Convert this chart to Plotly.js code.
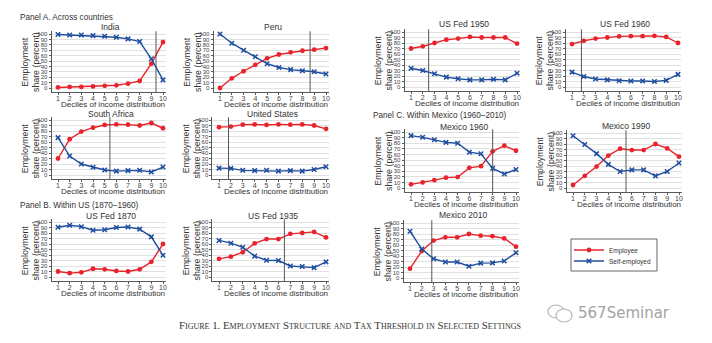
<!DOCTYPE html>
<html><head><meta charset="utf-8">
<script src="https://cdn.plot.ly/plotly-3.0.1.min.js"></script>
<style>html,body{margin:0;padding:0;background:#fff;} #chart{width:712px;height:343px;}</style>
</head><body><div id="chart"></div>
<script>
// ---------- data ----------
const deciles = [1,2,3,4,5,6,7,8,9,10];
const yTickVals = [0,10,20,30,40,50,60,70,80,90,100];
const panelTitles = ['India','Peru','US Fed 1950','US Fed 1960','South Africa','United States','Mexico 1960','Mexico 1990','US Fed 1870','US Fed 1935','Mexico 2010'];

const indiaEmployee = [1,2,2,3,4,5,8,13,45,85];
const indiaSelf     = [99,98,98,97,96,94,91,86,54,15];
const peruEmployee  = [0,18,31,43,55,62,66,69,71,74];
const peruSelf      = [100,83,70,58,45,38,34,32,30,26];
const fed1950Employee = [70,74,80,86,88,91,90,90,90,79];
const fed1950Self     = [34,30,24,18,15,13,13,14,13,25];
const fed1960Employee = [78,84,88,90,92,92.5,92.5,93,91,80];
const fed1960Self     = [27,19,14.5,13,11.5,11,11,10,12,23];
const southAfricaEmployee = [30,65,79,86,91,92,91.5,90,94.5,85];
const southAfricaSelf     = [68,34.5,20,14,9,7,8,8.5,5.5,14.5];
const usEmployee = [87,88,91.5,92,91,92,91.5,92,90,84];
const usSelf     = [12.5,12,8.5,8,8.5,7,8,7,10,15];
const mex1960Employee = [6.5,10,14,18.5,19.5,36,39,65.5,75.5,66.5];
const mex1960Self     = [93.5,90.5,86,81.5,80,64,61,35,25,33];
const mex1990Employee = [5.5,22,39,59,71.5,69,69,80,72,57];
const mex1990Self     = [95,79,62.5,43,30,33,33,22,30,45.5];
const fed1870Employee = [10,7,8.5,15,14,11,10,14,27.5,60];
const fed1870Self     = [90.5,94,91.5,85,86,90,91,87,73,39.5];
const fed1935Employee = [33,37,45,61,69,69,78.5,80,82,72];
const fed1935Self     = [66.5,61.5,54,38,30.5,30,20,19,17,27.5];
const mex2010Employee = [17,49,68,74,74,80,77,76,72,57];
const mex2010Self     = [85,52.5,35,29,29,21.5,27,27.5,31,46];

// tax threshold (decile position) for each panel; null = none drawn
const thresholds = [9.4, 8.65, 2.5, 1.8, 5.45, 1.8, 8.0, 5.5, null, 6.5, 2.85];

const employeeSeries = [indiaEmployee, peruEmployee, fed1950Employee, fed1960Employee, southAfricaEmployee, usEmployee, mex1960Employee, mex1990Employee, fed1870Employee, fed1935Employee, mex2010Employee];
const selfSeries = [indiaSelf, peruSelf, fed1950Self, fed1960Self, southAfricaSelf, usSelf, mex1960Self, mex1990Self, fed1870Self, fed1935Self, mex2010Self];

// ---------- layout geometry (pixels) ----------
const W = 712, H = 343;
// [pixel of x=1, pixel of x=10, pixel of y=100, pixel of y=0, title y]
const geom = [
  [58,163,34,88,27],[220,326,34,88,27],[411,517,32,87,24],[572,678,32,87,24],
  [58,163,120,175,114],[219,326,120,175,114],[411,516,132,188,127],[573,679,133,188,126],
  [58,163,222,277,216],[219,326,222,277,215.5],[410,516,223,278,215]
];
const XMIN = 0.45, XMAX = 10.25, YMIN = -8, YMAX = 105;

const RED = '#e8232b', BLUE = '#1f4e9f', TXT = '#333', AX = '#5a5a5a';
const FONT = 'Liberation Sans, Arial, sans-serif';

const data = [];
const layout = {
  width: W, height: H, margin: {l:0,r:0,t:0,b:0},
  paper_bgcolor: '#fff', plot_bgcolor: '#fff',
  font: {family: FONT, color: TXT},
  showlegend: true,
  shapes: [], annotations: []
};

function px2x(p){ return p / W; }
function px2y(p){ return 1 - p / H; }

geom.forEach((g, i) => {
  const n = i + 1;
  const [x1, x10, y100, y0, ty] = g;
  const u = (x10 - x1) / 9, v = (y0 - y100) / 100;
  const left = x1 - (1 - XMIN) * u, right = x10 + (XMAX - 10) * u;
  const top = y100 - (YMAX - 100) * v, bottom = y0 - YMIN * v;
  const xa = 'xaxis' + (n === 1 ? '' : n), ya = 'yaxis' + (n === 1 ? '' : n);
  const xr = 'x' + (n === 1 ? '' : n), yr = 'y' + (n === 1 ? '' : n);
  layout[xa] = {
    domain: [px2x(left), px2x(right)], anchor: yr, range: [XMIN, XMAX],
    tickvals: deciles, ticks: 'outside', ticklen: 2, tickwidth: 1, tickcolor: AX,
    ticklabelstandoff: -3,
    tickfont: {size: 7, color: '#444'}, showline: true, linecolor: AX, linewidth: 1,
    showgrid: false, zeroline: false, fixedrange: true
  };
  layout[ya] = {
    domain: [px2y(bottom), px2y(top)], anchor: xr, range: [YMIN, YMAX],
    tickvals: yTickVals, ticks: 'outside', ticklen: 2, tickwidth: 1, tickcolor: AX,
    tickfont: {size: 6, color: '#444'}, showline: true, linecolor: AX, linewidth: 1,
    showgrid: true, gridcolor: '#e1e1e1', gridwidth: 1, zeroline: false, fixedrange: true
  };
  data.push({
    x: deciles, y: employeeSeries[i], xaxis: xr, yaxis: yr, type: 'scatter', mode: 'lines+markers',
    name: 'Employee', line: {color: RED, width: 1.4}, marker: {color: RED, size: 4.8, symbol: 'circle'},
    showlegend: i === 0, legend: 'legend'
  });
  data.push({
    x: deciles, y: selfSeries[i], xaxis: xr, yaxis: yr, type: 'scatter', mode: 'lines+markers',
    name: 'Self-employed', line: {color: BLUE, width: 1.4}, marker: {color: BLUE, size: 4.5, symbol: 'x-thin', line: {color: BLUE, width: 1.5}},
    showlegend: i === 0, legend: 'legend2'
  });
  if (thresholds[i] !== null) {
    layout.shapes.push({type: 'line', xref: xr, yref: yr + ' domain', x0: thresholds[i], x1: thresholds[i], y0: 0, y1: 1,
      line: {color: '#555', width: 1}});
  }
  const cx = (x1 + x10) / 2;
  layout.annotations.push({text: panelTitles[i], xref: 'paper', yref: 'paper', x: px2x(cx), y: px2y(ty),
    xanchor: 'center', yanchor: 'middle', showarrow: false, font: {size: 8.5, color: TXT}});
  layout.annotations.push({text: 'Deciles of income distribution', xref: 'paper', yref: 'paper', x: px2x(cx + 3), y: px2y(y0 + 16.5),
    xanchor: 'center', yanchor: 'middle', showarrow: false, font: {size: 8, color: TXT}});
  layout.annotations.push({text: 'Employment<br>share (percent)', xref: 'paper', yref: 'paper', x: px2x(x1 - 28), y: px2y((y100 + y0) / 2 + 1),
    xanchor: 'center', yanchor: 'middle', showarrow: false, textangle: -90, font: {size: 8.8, color: TXT}});
});

// panel headings
[['Panel A. Across countries', 18, 17], ['Panel B. Within US (1870–1960)', 18, 206], ['Panel C. Within Mexico (1960–2010)', 371, 116]].forEach(p => {
  layout.annotations.push({text: p[0], xref: 'paper', yref: 'paper', x: px2x(p[1]), y: px2y(p[2]), xanchor: 'left', yanchor: 'middle',
    showarrow: false, font: {size: 8.2, color: TXT}});
});

// caption
layout.annotations.push({text: 'Figure 1. Employment Structure and Tax Threshold in Selected Settings', xref: 'paper', yref: 'paper',
  x: px2x(350), y: px2y(325), xanchor: 'center', yanchor: 'middle', showarrow: false,
  font: {family: 'Liberation Serif, Times New Roman, serif', size: 10.8, color: '#333', variant: 'small-caps'}});

// watermark
layout.annotations.push({text: '567Seminar', xref: 'paper', yref: 'paper', x: px2x(624), y: px2y(313), xanchor: 'center', yanchor: 'middle',
  showarrow: false, font: {size: 15, color: '#a3a3a3', family: 'DejaVu Sans, sans-serif'}});
layout.shapes.push({type: 'circle', xref: 'paper', yref: 'paper', x0: px2x(548), x1: px2x(564), y0: px2y(318), y1: px2y(305), line: {color: '#b5b5b5', width: 1.2}});
layout.shapes.push({type: 'circle', xref: 'paper', yref: 'paper', x0: px2x(556), x1: px2x(572), y0: px2y(322), y1: px2y(309), line: {color: '#b5b5b5', width: 1.2}, fillcolor: '#fff'});

// legend box
layout.shapes.push({type: 'rect', xref: 'paper', yref: 'paper', x0: px2x(571), x1: px2x(657), y0: px2y(271), y1: px2y(239), line: {color: '#666', width: 1}});
const legCommon = {xanchor: 'left', yanchor: 'middle', bgcolor: 'rgba(0,0,0,0)', borderwidth: 0, font: {size: 6.5, color: '#333'}, itemwidth: 30};
layout.legend = Object.assign({x: px2x(569), y: px2y(250)}, legCommon);
layout.legend2 = Object.assign({x: px2x(569), y: px2y(261)}, legCommon);

Plotly.newPlot('chart', data, layout, {displayModeBar: false, staticPlot: true});
</script></body></html>
